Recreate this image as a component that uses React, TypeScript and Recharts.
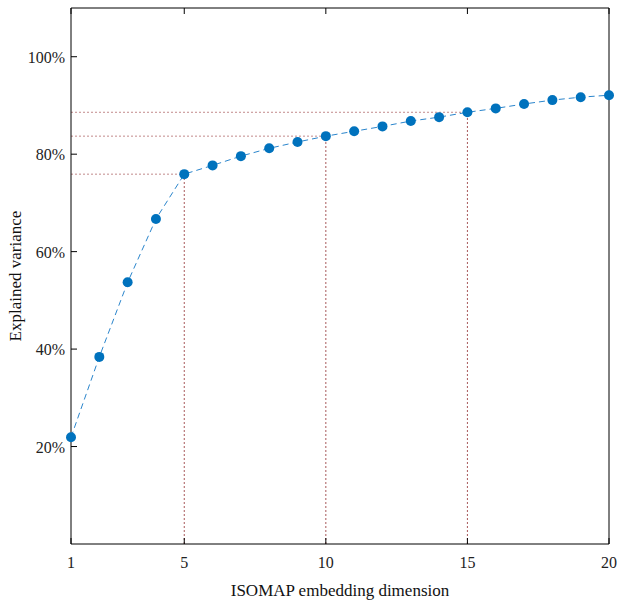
import React from 'react'
import {
  LineChart,
  Line,
  XAxis,
  YAxis,
  ReferenceLine,
  Label,
} from 'recharts'

const dims = [1, 2, 3, 4, 5, 6, 7, 8, 9, 10, 11, 12, 13, 14, 15, 16, 17, 18, 19, 20]
const variance = [21.9, 38.4, 53.7, 66.7, 75.9, 77.7, 79.6, 81.2, 82.5, 83.7, 84.7, 85.7, 86.8, 87.6, 88.6, 89.4, 90.3, 91.1, 91.7, 92.1]
const xTicks = [1, 5, 10, 15, 20]
const yTicks = [20, 40, 60, 80, 100]
const markedDims = [5, 10, 15]

const data = dims.map((d, i) => ({ dim: d, value: variance[i] }))

const FONT = '"Times New Roman", "Liberation Serif", "DejaVu Serif", serif'
const TICK_LEN = 6
const guideColor = '#a8585a'

// ticks point inward, so draw the line and the text ourselves
const BottomTick = (props: any) => {
  const { x, y, payload } = props
  return (
    <g>
      <line x1={x} y1={y} x2={x} y2={y - TICK_LEN} stroke="#000" />
      <text x={x} y={y + 24} textAnchor="middle" style={{ fontFamily: FONT, fontSize: 16 }} fill="#222">
        {payload.value}
      </text>
    </g>
  )
}

const TopTick = (props: any) => {
  const { x, y } = props
  return <line x1={x} y1={y} x2={x} y2={y + TICK_LEN} stroke="#000" />
}

const LeftTick = (props: any) => {
  const { x, y, payload } = props
  return (
    <g>
      <line x1={x} y1={y} x2={x + TICK_LEN} y2={y} stroke="#000" />
      <text x={x - 6} y={y + 6} textAnchor="end" style={{ fontFamily: FONT, fontSize: 16 }} fill="#222">
        {payload.value}%
      </text>
    </g>
  )
}

const RightTick = (props: any) => {
  const { x, y } = props
  return <line x1={x} y1={y} x2={x - TICK_LEN} y2={y} stroke="#000" />
}

export default function App() {
  return (
    <div style={{ position: 'absolute', left: 0, top: 0, background: '#fff', fontFamily: FONT }}>
      <LineChart
        width={617}
        height={606}
        data={data}
        margin={{ top: 7, right: 7, bottom: 0, left: 0 }}
      >
        <XAxis
          xAxisId="b"
          dataKey="dim"
          type="number"
          domain={[1, 20]}
          ticks={xTicks}
          tick={<BottomTick />}
          tickLine={false}
          tickSize={0}
          tickMargin={0}
          height={62}
          stroke="#000"
          interval={0}
        >
          <Label
            value="ISOMAP embedding dimension"
            position="insideBottom"
            offset={10}
            style={{ fontFamily: FONT, fontSize: 17, fill: '#111' }}
          />
        </XAxis>
        <XAxis
          xAxisId="t"
          orientation="top"
          dataKey="dim"
          type="number"
          domain={[1, 20]}
          ticks={xTicks}
          tick={<TopTick />}
          tickLine={false}
          tickSize={0}
          tickMargin={0}
          height={1}
          stroke="#000"
          interval={0}
        />
        <YAxis
          yAxisId="l"
          type="number"
          domain={[0, 110]}
          ticks={yTicks}
          tick={<LeftTick />}
          tickLine={false}
          tickSize={0}
          tickMargin={0}
          width={71}
          stroke="#000"
          interval={0}
        >
          <Label
            value="Explained variance"
            angle={-90}
            position="insideLeft"
            offset={15}
            style={{ textAnchor: 'middle', fontFamily: FONT, fontSize: 17, fill: '#111' }}
          />
        </YAxis>
        <YAxis
          yAxisId="r"
          orientation="right"
          type="number"
          domain={[0, 110]}
          ticks={yTicks}
          tick={<RightTick />}
          tickLine={false}
          tickSize={0}
          tickMargin={0}
          width={1}
          stroke="#000"
          interval={0}
        />
        {markedDims.map(d => {
          const v = variance[dims.indexOf(d)]
          return (
            <ReferenceLine
              key={'h' + d}
              xAxisId="b"
              yAxisId="l"
              segment={[{ x: 1, y: v }, { x: d, y: v }]}
              stroke={guideColor}
              strokeOpacity={0.7}
              strokeDasharray="2 2"
            />
          )
        })}
        {markedDims.map(d => {
          const v = variance[dims.indexOf(d)]
          return (
            <ReferenceLine
              key={'v' + d}
              xAxisId="b"
              yAxisId="l"
              segment={[{ x: d, y: 0 }, { x: d, y: v }]}
              stroke={guideColor}
              strokeDasharray="2 2"
            />
          )
        })}
        <Line
          xAxisId="b"
          yAxisId="l"
          type="linear"
          dataKey="value"
          stroke="#2a85cc"
          strokeWidth={1}
          strokeDasharray="6 4"
          dot={{ r: 5, fill: '#0072BD', stroke: 'none' }}
          isAnimationActive={false}
        />
      </LineChart>
    </div>
  )
}
